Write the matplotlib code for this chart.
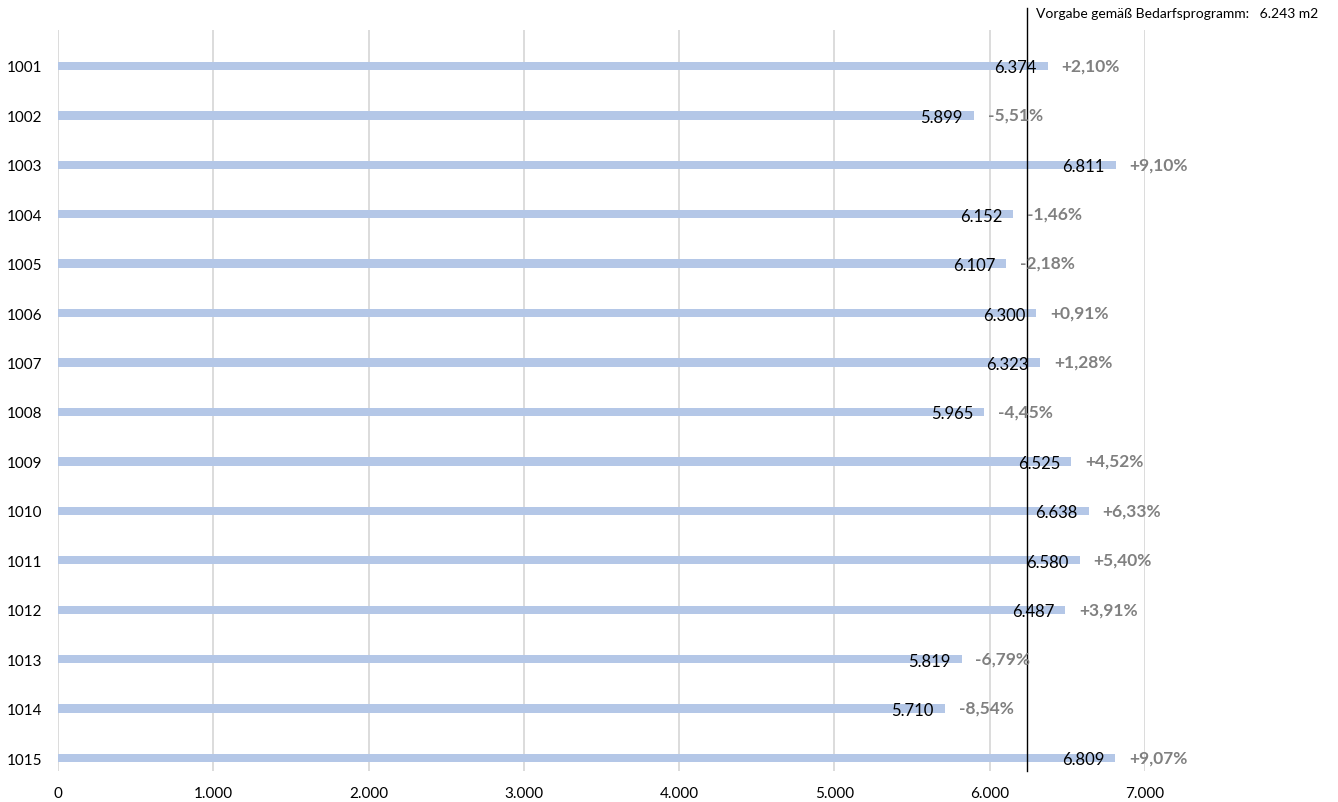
import matplotlib
matplotlib.use('Agg')
from matplotlib import pyplot
from matplotlib.ticker import FuncFormatter

# Data #
rooms  = ['1001', '1002', '1003', '1004', '1005', '1006', '1007', '1008',
          '1009', '1010', '1011', '1012', '1013', '1014', '1015']
areas  = [6374, 5899, 6811, 6152, 6107, 6300, 6323, 5965,
          6525, 6638, 6580, 6487, 5819, 5710, 6809]
deltas = ['+2,10%', '-5,51%', '+9,10%', '-1,46%', '-2,18%', '+0,91%', '+1,28%', '-4,45%',
          '+4,52%', '+6,33%', '+5,40%', '+3,91%', '-6,79%', '-8,54%', '+9,07%']
target = 6243
x_ticks = [0, 1000, 2000, 3000, 4000, 5000, 6000, 7000]

# Style #
pyplot.rcParams['font.family'] = ['Lato', 'DejaVu Sans']
bar_color  = '#B4C7E7'
grid_color = '#D9D9D9'
pct_color  = '#808080'

def thousands(x, pos=None):
    return '{:,.0f}'.format(x).replace(',', '.')

################################################################################
fig = pyplot.figure(figsize=(13.38, 8.03), dpi=100)
axes = fig.add_axes([58/1338, 31/803, (1145-58)/1338, (772-31)/803])

positions = list(range(len(rooms)))
axes.barh(positions, areas, height=0.17, color=bar_color, zorder=2)

# Value labels inside the bar end, deviation labels after it #
for y, value, delta in zip(positions, areas, deltas):
    axes.annotate(thousands(value), (value, y), xytext=(-8, -1), textcoords='offset points',
                  ha='right', va='center', fontsize=12, color='black', zorder=4)
    axes.annotate(delta, (value, y), xytext=(10, 0.5), textcoords='offset points',
                  ha='left', va='center', fontsize=12.5, fontweight='bold',
                  color=pct_color, annotation_clip=False, zorder=4)

# Target line #
axes.axvline(target, ymin=0, ymax=1.03, color='black', linewidth=1.0, clip_on=False, zorder=3)
axes.annotate('Vorgabe gemäß Bedarfsprogramm:   %s m2' % thousands(target),
              (target, 1.0), xycoords=('data', 'axes fraction'),
              xytext=(6, 12), textcoords='offset points', ha='left', va='center',
              fontsize=10, color='black', annotation_clip=False)

# Axes #
axes.set_xlim(0, 7000)
axes.set_ylim(14 + 13/49.5, -36/49.5)
axes.set_xticks(x_ticks)
axes.xaxis.set_major_formatter(FuncFormatter(thousands))
axes.set_yticks(positions)
axes.set_yticklabels(rooms)
axes.tick_params(axis='both', length=0, labelsize=11)
axes.tick_params(axis='y', pad=11)
axes.tick_params(axis='x', pad=11)
axes.xaxis.grid(True, color=grid_color, linewidth=1.3, zorder=0)
axes.set_axisbelow(True)
for spine in axes.spines.values(): spine.set_visible(False)

fig.savefig('out.png', dpi=100)
pyplot.close(fig)
